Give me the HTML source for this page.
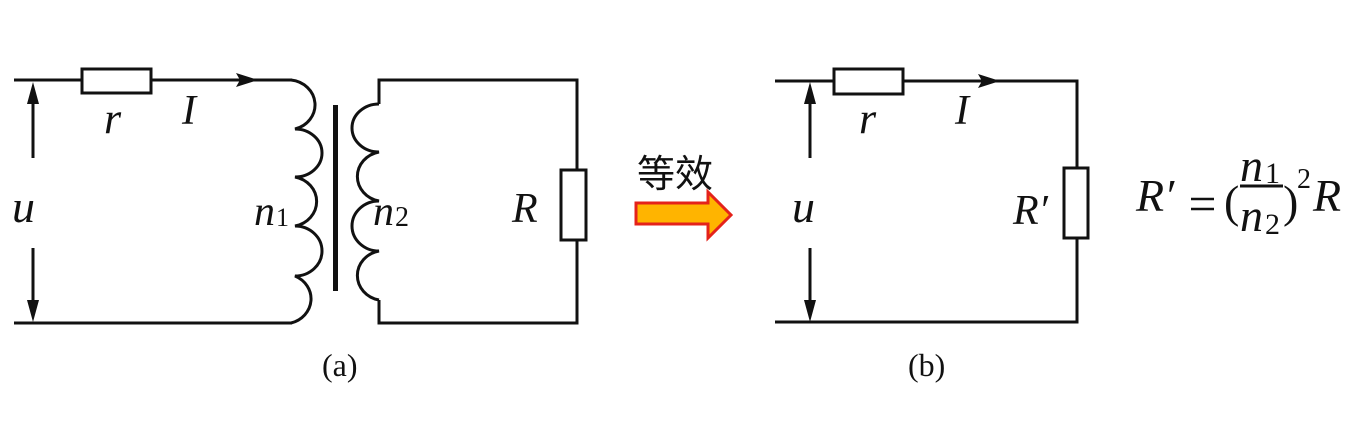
<!DOCTYPE html>
<html><head><meta charset="utf-8"><style>
html,body{margin:0;padding:0;background:#fff;}
svg{display:block;}
text{font-family:"Liberation Serif",serif;fill:#111;}
</style></head><body>
<svg width="1368" height="426" viewBox="0 0 1368 426" xmlns="http://www.w3.org/2000/svg">
<g stroke="#111" stroke-width="3" fill="none">
<path d="M14 80 H82 M151 80 H292"/>
<rect x="82" y="69" width="69" height="24"/>
<path d="M14 323 H292"/>
<path d="M291 80 A27 25 0 0 1 295 129 A27 24 0 0 1 295 177 A27 25 0 0 1 295 226 A27 25 0 0 1 295 276 A27 25 0 0 1 291 323"/>
<path d="M379 104 A27 24 0 0 0 379 152 A27 25 0 0 0 379 201 A27 25 0 0 0 379 251 A27 25 0 0 0 379 300"/>
<path d="M379 104 V80 H577 V170 M577 240 V323 H379 V300"/>
<rect x="561" y="170" width="25" height="70"/>
<path d="M775 81 H834 M903 81 H1077 V168 M1077 238 V322 H775"/>
<rect x="834" y="69" width="69" height="25"/>
<rect x="1064" y="168" width="24" height="70"/>
<path d="M33 95 V158 M33 248 V312"/>
<path d="M810 95 V158 M810 248 V312"/>
<path d="M1191 199 H1214 M1191 209 H1214" stroke-width="2.5"/>
<path d="M1240 186 H1283" stroke-width="3"/>
</g>
<rect x="333" y="105" width="5" height="186" fill="#111"/>
<g fill="#111">
<path d="M33 82 L27 104 L39 104 Z"/>
<path d="M33 322 L27 300 L39 300 Z"/>
<path d="M810 82 L804 104 L816 104 Z"/>
<path d="M810 322 L804 300 L816 300 Z"/>
<path d="M258 80 L236 73 L240 80 L236 87 Z"/>
<path d="M1000 81 L978 74 L982 81 L978 88 Z"/>
</g>
<path d="M636 203 H708 V192 L731 215 L708 238 V224 H636 Z" fill="#ffb400" stroke="#e4221a" stroke-width="3"/>
<text x="637" y="187" font-size="38" style='font-family:"Noto Sans CJK SC",sans-serif;'>等效</text>
<g font-style="italic" font-size="42">
<text x="12" y="222" font-size="46">u</text>
<text x="104" y="133" font-size="44">r</text>
<text x="182" y="124">I</text>
<text x="254" y="225">n</text>
<text x="373" y="225">n</text>
<text x="512" y="222">R</text>
<text x="792" y="222" font-size="46">u</text>
<text x="859" y="133" font-size="44">r</text>
<text x="955" y="124">I</text>
<text x="1013" y="224">R′</text>
<text x="1136" y="211" font-size="46">R′</text>
<text x="1240" y="181" font-size="46">n</text>
<text x="1240" y="231" font-size="46">n</text>
<text x="1313" y="211" font-size="46">R</text>
</g>
<text x="276" y="226" font-size="26">1</text>
<text x="395" y="226" font-size="28">2</text>
<text x="1265" y="183" font-size="30">1</text>
<text x="1265" y="234" font-size="30">2</text>
<text x="1224" y="217" font-size="46">(</text>
<text x="1283" y="217" font-size="46">)</text>
<text x="1297" y="188" font-size="28">2</text>
<text x="322" y="376" font-size="32">(a)</text>
<text x="908" y="376" font-size="32">(b)</text>
</svg>
</body></html>
